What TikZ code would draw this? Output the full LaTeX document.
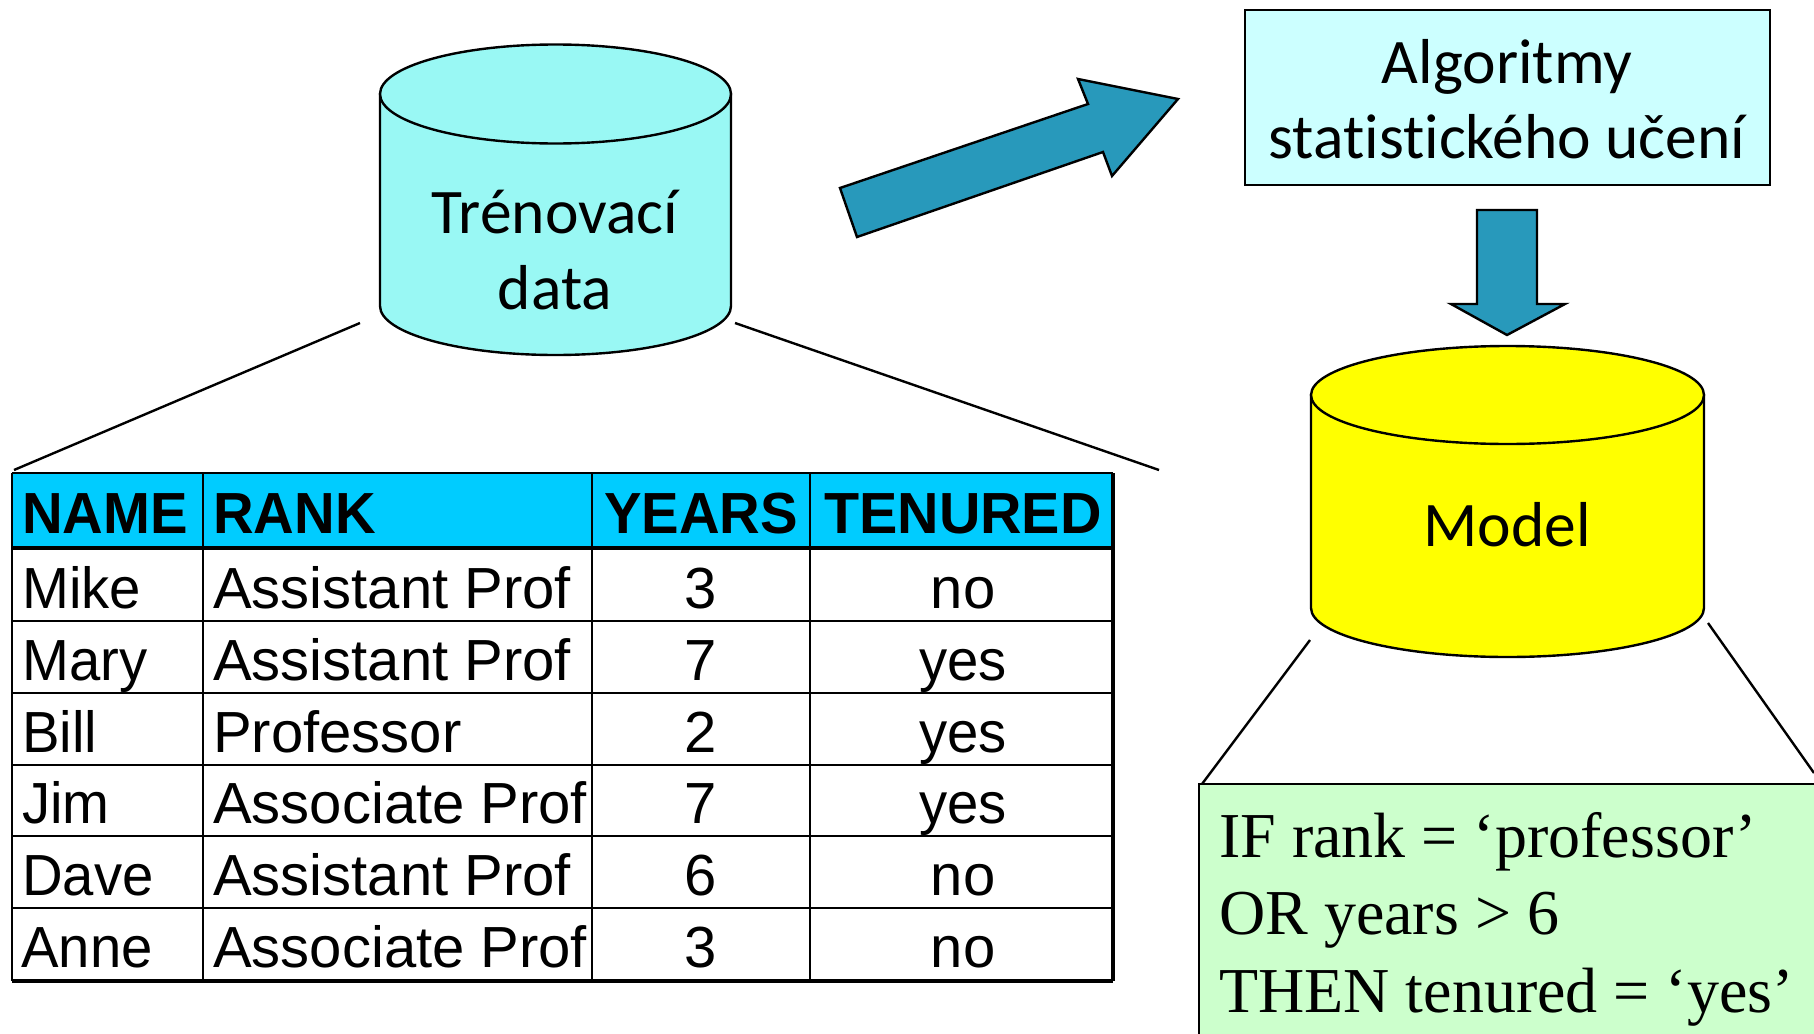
\documentclass[tikz,border=0pt]{standalone}
\usepackage{fontspec}
\setmainfont{Liberation Sans}
\newfontfamily\namefont{Liberation Sans}[FakeStretch=0.97]
\newfontfamily\hdrfont{Liberation Sans Bold}[FakeStretch=0.97]
\newfontfamily\hdrwide{Liberation Sans Bold}[FakeStretch=0.99]
\newfontfamily\calfont{Carlito}[Ligatures=NoCommon]
\newfontfamily\serfont{Liberation Serif}
\definecolor{cylcyan}{HTML}{99F8F4}
\definecolor{boxcyan}{HTML}{CCFFFF}
\definecolor{arrowblue}{HTML}{2899BB}
\definecolor{headcyan}{HTML}{00CCFF}
\definecolor{rulegreen}{HTML}{CCFFCC}
\definecolor{modelyellow}{HTML}{FFFF00}
\tikzset{
  cell/.style={anchor=base,inner sep=0pt,font=\fontsize{58}{60}\selectfont},
  celll/.style={cell,anchor=base west},
  namecell/.style={anchor=base west,inner sep=0pt,font=\namefont\fontsize{58}{60}\selectfont},
  yescell/.style={anchor=base,inner sep=0pt,font=\namefont\fontsize{58}{60}\selectfont},
  head/.style={anchor=base,inner sep=0pt,font=\hdrfont\fontsize{58}{60}\selectfont},
  headl/.style={head,anchor=base west},
  cal/.style={anchor=base,inner sep=0pt,font=\calfont\fontsize{63.5}{65}\selectfont},
  ser/.style={anchor=base west,inner sep=0pt,font=\serfont\fontsize{64}{66}\selectfont},
  outline/.style={draw=black,line width=2.4pt,line join=miter},
  grid/.style={draw=black,line width=2.4pt},
  gridb/.style={draw=black,line width=3.4pt},
  zoomline/.style={draw=black,line width=2.4pt},
}
\begin{document}
\begin{tikzpicture}[x=1pt,y=-1pt]
\clip (0,0) rectangle (1814,1033);
\fill[white] (0,0) rectangle (1814,1033);
% cylinder: training data
\path[outline,fill=cylcyan] (380,94) -- (380,306) arc[start angle=180,end angle=360,x radius=175.5pt,y radius=49pt] -- (731,94) -- cycle;
\path[outline,fill=cylcyan] (555.5,94) ellipse [x radius=175.5pt,y radius=49.5pt];
\node[cal] (train1) at (555,233) {Trénovací};
\node[cal] (train2) at (555,309) {data};
% algorithm box
\node[draw=black,line width=2.4pt,fill=boxcyan,minimum width=525pt,minimum height=175pt,inner sep=0pt] (algo) at (1507.5,97.5) {};
\node[cal] (algo1) at (1507,83) {Algoritmy};
\node[cal] (algo2) at (1507,158) {statistického učení};
% block arrows
\path[outline,fill=arrowblue] (840,188) -- (1088,104) -- (1078,79) -- (1178,99) -- (1112,176) -- (1103,152) -- (857,237) -- cycle;
\path[outline,fill=arrowblue] (1477,210) -- (1537,210) -- (1537,304) -- (1565,304) -- (1507,335) -- (1451,304) -- (1477,304) -- cycle;
% cylinder: model
\path[outline,fill=modelyellow] (1311,395) -- (1311,608) arc[start angle=180,end angle=360,x radius=196.5pt,y radius=49pt] -- (1704,395) -- cycle;
\path[outline,fill=modelyellow] (1507.5,395) ellipse [x radius=196.5pt,y radius=49pt];
\node[cal] (model) at (1507,546) {Model};
% zoom lines
\coordinate (tl1) at (360,323); \coordinate (tl2) at (14,470);
\coordinate (tr1) at (735,323); \coordinate (tr2) at (1159,470);
\coordinate (ml1) at (1310,640); \coordinate (ml2) at (1202,784);
\coordinate (mr1) at (1708,623); \coordinate (mr2) at (1814,773);
\draw[zoomline] (tl1) -- (tl2);
\draw[zoomline] (tr1) -- (tr2);
\draw[zoomline] (ml1) -- (ml2);
\draw[zoomline] (mr1) -- (mr2);
% rule box
\node[draw=black,line width=2.4pt,fill=rulegreen,minimum width=640pt,minimum height=300pt,inner sep=0pt] (rulebox) at (1519,934) {};
\node[ser] (r1) at (1219,857) {IF rank = ‘professor’};
\node[ser] (r2) at (1219,934) {OR years > 6};
\node[ser] (r3) at (1219,1012) {THEN tenured = ‘yes’};
% table
\fill[headcyan] (12,473) rectangle (1113,548);
\draw[grid] (12,621) -- (1113,621);
\draw[grid] (12,693) -- (1113,693);
\draw[grid] (12,765) -- (1113,765);
\draw[grid] (12,836) -- (1113,836);
\draw[grid] (12,908) -- (1113,908);
\draw[grid] (203,473) -- (203,981);
\draw[grid] (592,473) -- (592,981);
\draw[grid] (810,473) -- (810,981);
\draw[grid] (12,473) -- (1113,473);
\draw[grid] (12,473) -- (12,981);
\draw[gridb] (12,548) -- (1113,548);
\draw[gridb] (12,981) -- (1113,981);
\draw[gridb] (1113,473) -- (1113,981);
\node[headl] (h1) at (22,533) {NAME};
\node[headl] (h2) at (213,533) {RANK};
\node[head] (h3) at (701,533) {YEARS};
\node[head,font=\hdrwide\fontsize{58}{60}\selectfont] (h4) at (963,533) {TENURED};
\node[namecell] (a1) at (22,608) {Mike};
\node[celll] (b1) at (213,608) {Assistant Prof};
\node[cell] (c1) at (701,608) {3};
\node[cell] (d1) at (963,608) {no};
\node[namecell] (a2) at (22,680) {Mary};
\node[celll] (b2) at (213,680) {Assistant Prof};
\node[cell] (c2) at (701,680) {7};
\node[yescell] (d2) at (963,680) {yes};
\node[namecell] (a3) at (22,752) {Bill};
\node[celll] (b3) at (213,752) {Professor};
\node[cell] (c3) at (701,752) {2};
\node[yescell] (d3) at (963,752) {yes};
\node[namecell] (a4) at (22,823) {Jim};
\node[celll] (b4) at (213,823) {Associate Prof};
\node[cell] (c4) at (701,823) {7};
\node[yescell] (d4) at (963,823) {yes};
\node[namecell] (a5) at (22,895) {Dave};
\node[celll] (b5) at (213,895) {Assistant Prof};
\node[cell] (c5) at (701,895) {6};
\node[cell] (d5) at (963,895) {no};
\node[namecell] (a6) at (21,967) {Anne};
\node[celll] (b6) at (213,967) {Associate Prof};
\node[cell] (c6) at (701,967) {3};
\node[cell] (d6) at (963,967) {no};
\end{tikzpicture}
\end{document}
